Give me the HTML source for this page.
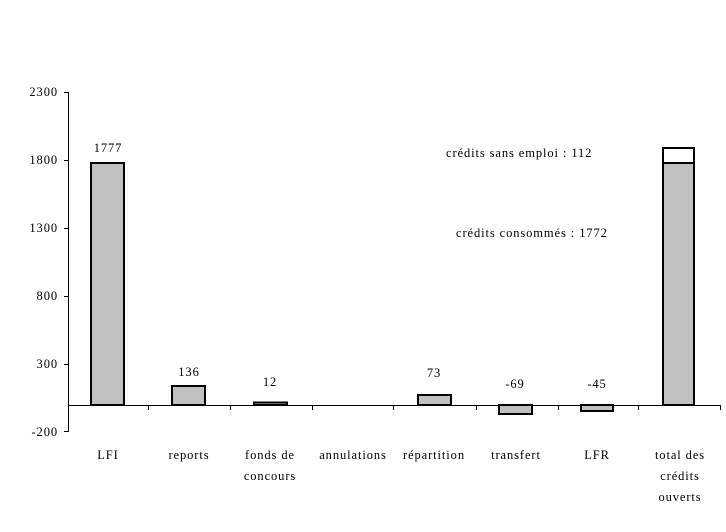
<!DOCTYPE html>
<html><head><meta charset="utf-8"><style>
html,body{margin:0;padding:0;background:#fff;}
svg{display:block;font-family:"Liberation Serif",serif;font-size:12.5px;letter-spacing:0.9px;}
</style></head><body>
<svg width="726" height="532" xmlns="http://www.w3.org/2000/svg">
<g stroke="#000" stroke-width="1" fill="none">
<line x1="68.5" y1="92" x2="68.5" y2="432"/>
<line x1="64" y1="92.5" x2="68" y2="92.5"/>
<line x1="64" y1="160.5" x2="68" y2="160.5"/>
<line x1="64" y1="228.5" x2="68" y2="228.5"/>
<line x1="64" y1="296.5" x2="68" y2="296.5"/>
<line x1="64" y1="364.5" x2="68" y2="364.5"/>
<line x1="64" y1="431.5" x2="68" y2="431.5"/>
<line x1="68" y1="405.5" x2="721" y2="405.5"/>
<line x1="148.5" y1="405" x2="148.5" y2="410"/>
<line x1="230.5" y1="405" x2="230.5" y2="410"/>
<line x1="312.5" y1="405" x2="312.5" y2="410"/>
<line x1="393.5" y1="405" x2="393.5" y2="410"/>
<line x1="476.5" y1="405" x2="476.5" y2="410"/>
<line x1="558.5" y1="405" x2="558.5" y2="410"/>
<line x1="638.5" y1="405" x2="638.5" y2="410"/>
<line x1="720.5" y1="405" x2="720.5" y2="410"/>
</g>
<g stroke="#000" stroke-width="2" fill="#c0c0c0">
<rect x="91" y="163" width="33" height="242"/>
<rect x="172" y="386" width="33" height="19"/>
<rect x="254" y="402.5" width="33" height="2.5"/>
<rect x="418" y="395" width="33" height="10"/>
<rect x="499" y="405" width="33" height="9"/>
<rect x="581" y="405" width="32" height="6"/>
<rect x="663" y="163" width="31" height="242"/>
<rect x="663" y="148" width="31" height="15" fill="#fff"/>
</g>
<g text-anchor="end">
<text x="58" y="96">2300</text>
<text x="58" y="164">1800</text>
<text x="58" y="232">1300</text>
<text x="58" y="300">800</text>
<text x="58" y="368">300</text>
<text x="58" y="436">-200</text>
</g>
<g text-anchor="middle">
<text x="108" y="152">1777</text>
<text x="189" y="376">136</text>
<text x="270" y="386">12</text>
<text x="434" y="377">73</text>
<text x="515" y="388">-69</text>
<text x="597" y="388">-45</text>
<text x="108" y="459">LFI</text>
<text x="189" y="459">reports</text>
<text x="270" y="459">fonds de</text>
<text x="270" y="480">concours</text>
<text x="353" y="459">annulations</text>
<text x="434" y="459">répartition</text>
<text x="516" y="459">transfert</text>
<text x="597" y="459">LFR</text>
<text x="680" y="459">total des</text>
<text x="680" y="480">crédits</text>
<text x="680" y="501">ouverts</text>
</g>
<text x="446" y="157">crédits sans emploi : 112</text>
<text x="456" y="237">crédits consommés : 1772</text>
</svg>
</body></html>
